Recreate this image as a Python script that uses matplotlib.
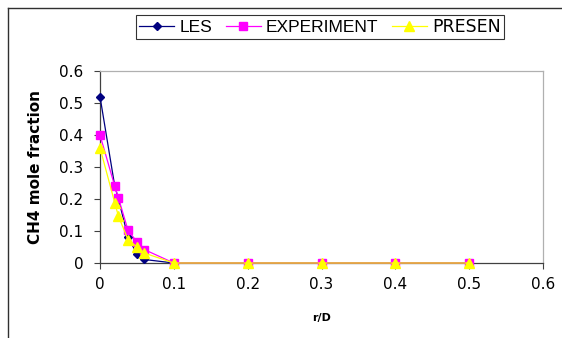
import matplotlib.pyplot as plt
from matplotlib.lines import Line2D

# values
r_les = [0, 0.02, 0.025, 0.038, 0.05, 0.06, 0.1, 0.2, 0.3, 0.4, 0.5]
les = [0.52, 0.24, 0.20, 0.08, 0.029, 0.011, 0, 0, 0, 0, 0]

r_exp = [0, 0.02, 0.025, 0.038, 0.05, 0.06, 0.1, 0.2, 0.3, 0.4, 0.5]
experiment = [0.40, 0.24, 0.203, 0.102, 0.066, 0.042, 0, 0, 0, 0, 0]

r_pre = [0, 0.02, 0.025, 0.038, 0.05, 0.06, 0.1, 0.2, 0.3, 0.4, 0.5]
presen = [0.36, 0.188, 0.146, 0.073, 0.05, 0.031, 0, 0, 0, 0, 0]

ticks = [0, 0.1, 0.2, 0.3, 0.4, 0.5, 0.6]
tick_labels = ['0', '0.1', '0.2', '0.3', '0.4', '0.5', '0.6']

fig = plt.figure(figsize=(5.62, 3.38), dpi=100)
ax = fig.add_axes([100 / 562, 1 - 263 / 338, 443 / 562, 192 / 338])

l1, = ax.plot(r_les, les, color='#000080', lw=0.9, marker='D', ms=4.5,
              clip_on=False, zorder=3)
l2, = ax.plot(r_exp, experiment, color='#FF00FF', lw=0.9, marker='s', ms=6,
              clip_on=False, zorder=4)
l3, = ax.plot(r_pre, presen, color='#FFFF00', lw=0.9, marker='^', ms=7,
              clip_on=False, zorder=5)

ax.set_xlim(0, 0.6)
ax.set_ylim(0, 0.6)
ax.set_xticks(ticks)
ax.set_xticklabels(tick_labels)
ax.set_yticks(ticks)
ax.set_yticklabels(tick_labels)
ax.tick_params(labelsize=11, length=4, width=0.8, color='#404040')
ax.tick_params(axis='x', pad=6)
ax.tick_params(axis='y', pad=8)

for s in ['left', 'bottom']:
    ax.spines[s].set_color('#404040')
    ax.spines[s].set_linewidth(0.9)
for s in ['top', 'right']:
    ax.spines[s].set_color('#b0b0b0')
    ax.spines[s].set_linewidth(0.9)

ax.set_ylabel('CH4 mole fraction', fontsize=11, fontweight='bold')
ax.yaxis.set_label_coords(-0.128, 0.5)
ax.set_xlabel('r/D', fontsize=8, fontweight='bold')
ax.xaxis.set_label_coords(0.5, -0.26)

leg = fig.legend([l1, l2, l3], ['LES', 'EXPERIMENT', 'PRESEN'],
                 loc='center', bbox_to_anchor=(320 / 562, 1 - 27 / 338),
                 ncol=3, fontsize=12.5, frameon=True, fancybox=False,
                 edgecolor='black', handlelength=2.0, handletextpad=0.3,
                 columnspacing=0.8, borderpad=0.2, borderaxespad=0)
leg.get_frame().set_linewidth(0.8)
texts = leg.get_texts()
texts[0].set_family('Liberation Sans')
texts[1].set_family('Liberation Sans')

# outer chart border (left and top edges visible)
fig.add_artist(Line2D([8 / 562, 8 / 562], [0, 1 - 8 / 338],
                      transform=fig.transFigure, color='#303030', lw=1.0))
fig.add_artist(Line2D([8 / 562, 1], [1 - 8 / 338, 1 - 8 / 338],
                      transform=fig.transFigure, color='#303030', lw=1.0))

fig.savefig('out.png', dpi=100)
